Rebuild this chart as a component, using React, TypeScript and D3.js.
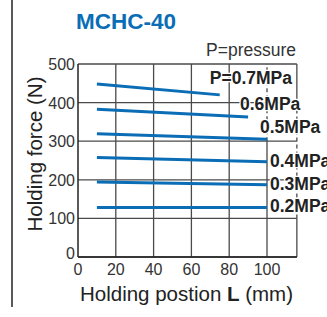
import React from "react";
import * as d3 from "d3";

const pressures = ["P=0.7MPa", "0.6MPa", "0.5MPa", "0.4MPa", "0.3MPa", "0.2MPa"];
const startL = [10, 10, 10, 10, 10, 10];
const endL = [75, 90, 100, 100, 100, 100];
const startForce = [448, 383, 319, 258, 194, 128];
const endForce = [420, 363, 305, 247, 187, 128];
const xTicks = [0, 20, 40, 60, 80, 100];
const yTicks = [0, 100, 200, 300, 400, 500];
const labelPos = [
  { x: 292, y: 84, anchor: "end" },
  { x: 240, y: 110, anchor: "start" },
  { x: 260, y: 133, anchor: "start" },
  { x: 270, y: 167, anchor: "start" },
  { x: 270, y: 190, anchor: "start" },
  { x: 270, y: 212, anchor: "start" },
];

const W = 327, H = 317;
const x = d3.scaleLinear().domain([0, 100]).range([78, 267]);
const y = d3.scaleLinear().domain([0, 500]).range([257, 64]);
const xMax = 115.8;

export default function App() {
  const blue = "#0a6db5";
  const grid = "#4a4a4a";
  const line = d3.line<[number, number]>().x(d => x(d[0])).y(d => y(d[1]));
  return (
    <svg width={W} height={H} style={{ position: "absolute", left: 0, top: 0, background: "#fff" }}
      fontFamily="'Liberation Sans', Arial, sans-serif">
      <line x1={12} x2={12} y1={0} y2={307} stroke="#222" strokeWidth={1.5} />
      <text x={76} y={29} fontSize={22.5} fontWeight="bold" fill={blue}>MCHC-40</text>
      <text x={296} y={56} fontSize={17.5} textAnchor="end" fill="#333">P=pressure</text>
      {/* grid */}
      {yTicks.map(t => (
        <line key={"h" + t} x1={x(0)} x2={x(xMax)} y1={y(t)} y2={y(t)} stroke={grid} strokeWidth={1.3} />
      ))}
      {xTicks.filter(t => t > 0 && t < 100).map(t => (
        <line key={"v" + t} x1={x(t)} x2={x(t)} y1={y(0)} y2={y(500)} stroke={grid} strokeWidth={1.3} />
      ))}
      <line x1={x(100)} x2={x(100)} y1={y(0)} y2={y(300)} stroke={grid} strokeWidth={1.3} />
      <line x1={x(100)} x2={x(100)} y1={y(300)} y2={y(500)} stroke={grid} strokeWidth={1.3} strokeDasharray="4,3" />
      <line x1={x(xMax)} x2={x(xMax)} y1={y(0)} y2={y(100)} stroke={grid} strokeWidth={1.3} />
      <line x1={x(xMax)} x2={x(xMax)} y1={y(100)} y2={y(410)} stroke={grid} strokeWidth={1.3} strokeDasharray="4,3" />
      <line x1={x(xMax)} x2={x(xMax)} y1={y(410)} y2={y(500)} stroke={grid} strokeWidth={1.3} />
      <line x1={x(0)} x2={x(0)} y1={y(0)} y2={y(500)} stroke="#222" strokeWidth={1.5} />
      <line x1={x(0)} x2={x(xMax)} y1={y(0)} y2={y(0)} stroke="#222" strokeWidth={1.5} />
      {/* series */}
      {pressures.map((p, i) => (
        <path key={p} d={line([[startL[i], startForce[i]], [endL[i], endForce[i]]]) || ""}
          stroke={blue} strokeWidth={3} fill="none" />
      ))}
      {pressures.map((p, i) => (
        <text key={"l" + p} x={labelPos[i].x} y={labelPos[i].y} fontSize={17.5} fontWeight="bold"
          textAnchor={labelPos[i].anchor as any} fill="#222"
          stroke="#fff" strokeWidth={2.5} paintOrder="stroke">{p}</text>
      ))}
      {/* ticks */}
      {yTicks.map(t => (
        <text key={"yt" + t} x={75} y={y(t) + (t === 0 ? 2 : 6)} fontSize={16}
          textAnchor="end" fill="#333">{t}</text>
      ))}
      {xTicks.map(t => (
        <text key={"xt" + t} x={x(t)} y={275} fontSize={16} textAnchor="middle" fill="#333">{t}</text>
      ))}
      <text x={186.5} y={301} fontSize={20.5} textAnchor="middle" fill="#222">
        Holding postion <tspan fontWeight="bold">L</tspan> (mm)
      </text>
      <text transform="translate(42,154) rotate(-90)" fontSize={20.5} textAnchor="middle" fill="#222">
        Holding force (N)
      </text>
    </svg>
  );
}
